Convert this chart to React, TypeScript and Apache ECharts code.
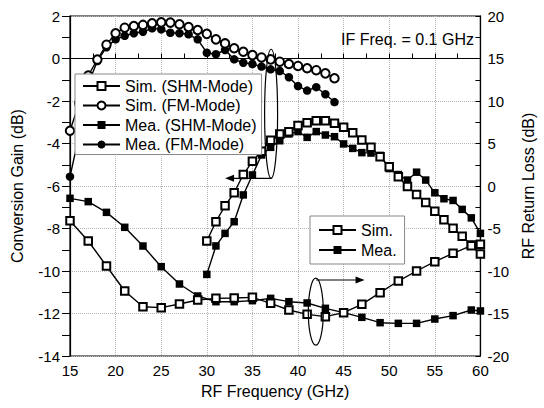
import React, { useEffect, useRef } from 'react';
import * as echarts from 'echarts';

// Conversion gain, FM mode (left axis)
const fmFreq = [15, 16, 17, 18, 19, 20, 21, 22, 23, 24, 25, 26, 27, 28, 29, 30, 31, 32, 33, 34, 35, 36, 37, 38, 39, 40, 41, 42, 43, 44];
const simFM = [-3.4, -2.1, -0.8, -0.05, 0.65, 1.19, 1.45, 1.53, 1.58, 1.66, 1.70, 1.69, 1.61, 1.48, 1.34, 1.16, 0.90, 0.71, 0.48, 0.32, 0.16, 0.05, -0.04, -0.15, -0.26, -0.35, -0.46, -0.55, -0.70, -0.93];
const meaFM = [-5.56, -3.6, -1.2, -0.12, 0.53, 0.90, 1.07, 1.19, 1.26, 1.42, 1.37, 1.21, 1.19, 1.14, 0.90, 0.27, 0.20, 0.40, -0.04, -0.20, -0.26, -0.38, -0.51, -0.59, -0.88, -1.30, -1.51, -1.35, -1.68, -2.05];

// Conversion gain, SHM mode (left axis)
const shmFreq = [30, 31, 32, 33, 34, 35, 36, 37, 38, 39, 40, 41, 42, 43, 44, 45, 46, 47, 48, 49, 50, 51, 52, 53, 54, 55, 56, 57, 58, 59, 60];
const simSHM = [-8.59, -7.68, -6.93, -6.32, -5.46, -4.84, -4.36, -3.85, -3.55, -3.45, -3.15, -3.02, -2.93, -2.93, -3.05, -3.24, -3.49, -3.83, -4.18, -4.62, -5.09, -5.56, -6.02, -6.40, -6.78, -7.19, -7.59, -7.99, -8.37, -8.78, -9.2];
const meaSHM = [-10.16, -8.82, -8.23, -7.68, -6.42, -5.48, -4.54, -4.18, -3.87, -3.55, -3.44, -3.71, -3.44, -3.60, -3.68, -4.02, -4.23, -4.43, -4.45, -4.56, -5.18, -5.46, -5.72, -5.35, -5.72, -6.32, -6.60, -6.68, -7.10, -7.50, -8.23];

// RF return loss (right axis)
const rlFreq = [15, 17, 19, 21, 23, 25, 27, 29, 31, 33, 35, 37, 39, 41, 43, 45, 47, 49, 51, 53, 55, 57, 59, 60];
const simRL = [-4.08, -6.47, -9.41, -12.35, -14.2, -14.31, -13.88, -13.41, -13.22, -13.18, -13.1, -13.8, -14.59, -15.1, -15.37, -14.9, -13.92, -12.55, -11.18, -10.0, -8.9, -7.92, -7.02, -6.85];
const meaRL = [-1.45, -1.84, -3.1, -4.86, -7.06, -9.49, -11.53, -12.94, -13.61, -13.61, -13.49, -13.22, -13.61, -13.76, -14.39, -14.9, -15.45, -16.08, -16.16, -16.16, -15.65, -15.25, -14.59, -14.7];

const gainLegend = ['Sim. (SHM-Mode)', 'Sim. (FM-Mode)', 'Mea. (SHM-Mode)', 'Mea. (FM-Mode)'];
const rlLegend = ['Sim.', 'Mea.'];

const FONT = '"Liberation Sans", Arial, sans-serif';

const pair = (xs: number[], ys: number[]) => xs.map((x, i) => [x, ys[i]]);

function mkSeries(name: string, data: number[][], symbol: string, size: number, yAxisIndex: number) {
  const empty = symbol.startsWith('empty');
  return {
    name,
    type: 'line',
    data,
    yAxisIndex,
    symbol,
    symbolSize: size,
    showAllSymbol: true,
    silent: true,
    emphasis: { disabled: true },
    lineStyle: { color: '#000', width: 1.4 },
    itemStyle: { color: '#000', borderColor: '#000', borderWidth: empty ? 1.2 : 0 },
    z: empty ? 3 : 2,
  };
}

export default function App() {
  const ref = useRef<HTMLDivElement>(null);
  useEffect(() => {
    document.body.style.margin = '0';
    const chart = echarts.init(ref.current!, null, { renderer: 'svg' });
    const option: any = {
      animation: false,
      backgroundColor: '#fff',
      textStyle: { fontFamily: FONT },
      grid: { left: 70, right: 54, top: 16, bottom: 52, show: true, borderColor: '#000', borderWidth: 1.2 },
      xAxis: {
        type: 'value', min: 15, max: 60, interval: 5,
        name: 'RF Frequency (GHz)', nameLocation: 'middle', nameGap: 27,
        nameTextStyle: { fontSize: 16, color: '#000', fontFamily: FONT },
        axisLine: { lineStyle: { color: '#000', width: 1.2 } },
        axisTick: { inside: true, length: 5, lineStyle: { color: '#000' } },
        minorTick: { show: true, splitNumber: 2, length: 5, lineStyle: { color: '#000' } },
        axisLabel: { color: '#000', fontSize: 15, margin: 7, fontFamily: FONT },
        splitLine: { show: true, lineStyle: { type: 'dotted', color: '#b5b5b5' } },
      },
      yAxis: [
        {
          type: 'value', min: -14, max: 2, interval: 2, position: 'left',
          name: 'Conversion Gain (dB)', nameLocation: 'middle', nameGap: 45, nameRotate: 90,
          nameTextStyle: { fontSize: 16, color: '#000', fontFamily: FONT },
          axisLine: { show: true, lineStyle: { color: '#000', width: 1.2 } },
          axisTick: { inside: false, length: 8, lineStyle: { color: '#000' } },
          minorTick: { show: true, splitNumber: 2, length: 8, lineStyle: { color: '#000' } },
          axisLabel: { color: '#000', fontSize: 15, margin: 10, fontFamily: FONT },
          splitLine: { show: true, lineStyle: { type: 'dotted', color: '#b5b5b5' } },
        },
        {
          type: 'value', min: -20, max: 20, interval: 5, position: 'right',
          name: 'RF Return Loss (dB)', nameLocation: 'middle', nameGap: 37, nameRotate: 90,
          nameTextStyle: { fontSize: 16, color: '#000', fontFamily: FONT },
          axisLine: { show: true, lineStyle: { color: '#000', width: 1.2 } },
          axisTick: { inside: true, length: 5, lineStyle: { color: '#000' } },
          minorTick: { show: true, splitNumber: 2, length: 5, lineStyle: { color: '#000' } },
          axisLabel: { color: '#000', fontSize: 15, margin: 7, fontFamily: FONT },
          splitLine: { show: false },
        },
      ],
      legend: [
        {
          data: gainLegend, orient: 'vertical', left: 75, top: 74,
          itemWidth: 37, itemHeight: 10, itemGap: 3.5, padding: [4, 5, 2, 7],
          borderColor: '#888', borderWidth: 1, backgroundColor: '#fff',
          textStyle: { fontSize: 16, color: '#000', fontFamily: FONT },
          selectedMode: false,
        },
        {
          data: rlLegend, orient: 'vertical', left: 310, top: 216,
          itemWidth: 37, itemHeight: 10, itemGap: 4, padding: [6, 8, 6, 8],
          borderColor: '#888', borderWidth: 1, backgroundColor: '#fff',
          textStyle: { fontSize: 16, color: '#000', fontFamily: FONT },
          selectedMode: false,
        },
      ],
      series: [
        mkSeries('Sim. (SHM-Mode)', pair(shmFreq, simSHM), 'emptyRect', 7.5, 0),
        mkSeries('Sim. (FM-Mode)', pair(fmFreq, simFM), 'emptyCircle', 8.5, 0),
        mkSeries('Mea. (SHM-Mode)', pair(shmFreq, meaSHM), 'rect', 7.5, 0),
        mkSeries('Mea. (FM-Mode)', pair(fmFreq, meaFM), 'circle', 8.5, 0),
        mkSeries('Sim.', pair(rlFreq, simRL), 'emptyRect', 7.5, 1),
        mkSeries('Mea.', pair(rlFreq, meaRL), 'rect', 7.5, 1),
      ],
    };
    chart.setOption(option);

    const L = (x: number, y: number) => chart.convertToPixel({ xAxisIndex: 0, yAxisIndex: 0 }, [x, y]) as number[];
    const R = (x: number, y: number) => chart.convertToPixel({ xAxisIndex: 0, yAxisIndex: 1 }, [x, y]) as number[];

    const e1 = L(37.05, -2.6);
    const a1s = L(37.1, -5.64);
    const a1e = L(32.0, -5.64);
    const e2 = R(41.95, -14.79);
    const a2s = R(42.0, -11.06);
    const a2e = R(47.3, -11.06);
    const stroke = { stroke: '#000', lineWidth: 1.2, fill: 'none' };

    chart.setOption({
      graphic: [
        { type: 'ellipse', silent: true, z: 10, shape: { cx: e1[0], cy: e1[1], rx: 6.5, ry: 64.5 }, style: stroke },
        { type: 'line', silent: true, z: 10, shape: { x1: a1s[0], y1: a1s[1], x2: a1e[0] + 6, y2: a1e[1] }, style: stroke },
        { type: 'polygon', silent: true, z: 10, shape: { points: [[a1e[0], a1e[1]], [a1e[0] + 9, a1e[1] - 3.5], [a1e[0] + 9, a1e[1] + 3.5]] }, style: { fill: '#000' } },
        { type: 'ellipse', silent: true, z: 10, shape: { cx: e2[0], cy: e2[1], rx: 7.5, ry: 33.5 }, style: stroke },
        { type: 'line', silent: true, z: 10, shape: { x1: a2s[0], y1: a2s[1], x2: a2e[0] - 6, y2: a2e[1] }, style: stroke },
        { type: 'polygon', silent: true, z: 10, shape: { points: [[a2e[0], a2e[1]], [a2e[0] - 9, a2e[1] - 3.5], [a2e[0] - 9, a2e[1] + 3.5]] }, style: { fill: '#000' } },
        { type: 'text', silent: true, z: 10, x: 341, y: 39, style: { text: 'IF Freq. = 0.1 GHz', fontSize: 16, fontFamily: FONT, fill: '#000', verticalAlign: 'middle' } },
      ],
    });

    return () => chart.dispose();
  }, []);
  return <div ref={ref} style={{ width: 544, height: 408 }} />;
}
